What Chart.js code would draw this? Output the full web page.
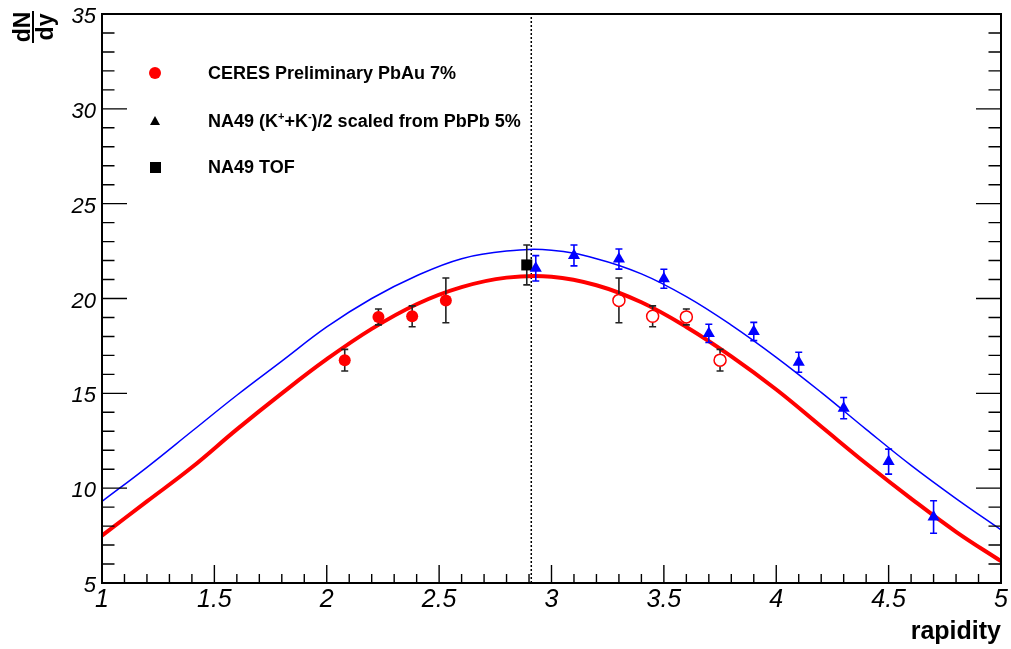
<!DOCTYPE html>
<html>
<head>
<meta charset="utf-8">
<script src="https://cdn.jsdelivr.net/npm/chart.js@4.4.1/dist/chart.umd.min.js"></script>
<style>
html, body { margin: 0; padding: 0; background: #fff; }
#caixa { width: 1011px; height: 649px; position: relative; }
</style>
</head>
<body>
<div id="caixa"><canvas id="grafico"></canvas></div>
<script>
// CERES PbAu 7% - pontos medidos
var ceresX = [2.08, 2.23, 2.38, 2.53];
var ceresY = [16.75, 19.03, 19.06, 19.9];
var ceresErr = [0.57, 0.42, 0.55, 1.18];

// CERES refletidos em torno da rapidez central
var ceresReflX = [3.30, 3.45, 3.60, 3.75];
var ceresReflY = [19.9, 19.06, 19.03, 16.75];
var ceresReflErr = [1.18, 0.55, 0.42, 0.57];

// NA49 (K+ + K-)/2
var na49X = [2.93, 3.1, 3.3, 3.5, 3.7, 3.9, 4.1, 4.3, 4.5, 4.7];
var na49Y = [21.59, 22.27, 22.08, 21.04, 18.16, 18.26, 16.64, 14.22, 11.4, 8.48];
var na49Err = [0.67, 0.55, 0.53, 0.5, 0.48, 0.48, 0.53, 0.56, 0.66, 0.86];

// NA49 TOF
var tofX = [2.89];
var tofY = [21.77];
var tofErr = [1.05];

// curvas
var curvaX = [1.0, 1.2, 1.4, 1.6, 1.8, 2.0, 2.2, 2.4, 2.6, 2.8, 3.0, 3.2, 3.4, 3.6, 3.8, 4.0, 4.2, 4.4, 4.6, 4.8, 5.0];
var curvaVermelha = [7.5, 9.3, 11.1, 13.1, 15.0, 16.8, 18.4, 19.7, 20.6, 21.1, 21.15, 20.7, 19.8, 18.5, 16.95, 15.2, 13.25, 11.3, 9.45, 7.7, 6.15];
var curvaAzul = [9.3, 11.1, 13.0, 14.9, 16.7, 18.5, 20.0, 21.2, 22.1, 22.5, 22.55, 22.1, 21.3, 20.1, 18.6, 16.9, 15.05, 13.1, 11.2, 9.45, 7.8];

var yMeio = 2.91;
var xMin = 1, xMax = 5, yMin = 5, yMax = 35;

var fonte = "'Liberation Sans', Arial, Helvetica, sans-serif";

function pontos(xs, ys) {
    return xs.map(function (x, i) { return { x: x, y: ys[i] }; });
}

// barras de erro desenhadas antes dos marcadores
const pluginErros = {
    id: 'erros',
    beforeDatasetDraw(chart, args) {
        const ds = chart.data.datasets[args.index];
        if (!ds.erros) return;
        const ctx = chart.ctx, sx = chart.scales.x, sy = chart.scales.y;
        ctx.save();
        ctx.strokeStyle = ds.corErro;
        ctx.lineWidth = 1.6;
        ds.data.forEach(function (p, i) {
            const px = sx.getPixelForValue(p.x);
            const topo = sy.getPixelForValue(p.y + ds.erros[i]);
            const base = sy.getPixelForValue(p.y - ds.erros[i]);
            const c = sy.getPixelForValue(p.y);
            const gap = ds.gap || 0;
            ctx.beginPath();
            if (topo < c - gap) { ctx.moveTo(px, topo); ctx.lineTo(px, c - gap); }
            if (base > c + gap) { ctx.moveTo(px, c + gap); ctx.lineTo(px, base); }
            ctx.moveTo(px - 3.5, topo); ctx.lineTo(px + 3.5, topo);
            ctx.moveTo(px - 3.5, base); ctx.lineTo(px + 3.5, base);
            ctx.stroke();
        });
        ctx.restore();
    }
};

// moldura, ticks internos, legenda e titulo do eixo y
const pluginMoldura = {
    id: 'moldura',
    afterDraw(chart) {
        const ctx = chart.ctx, a = chart.chartArea, sx = chart.scales.x, sy = chart.scales.y;
        ctx.save();
        ctx.strokeStyle = '#000';

        // ticks
        ctx.lineWidth = 1.4;
        ctx.beginPath();
        for (let i = 0; i <= 40; i++) {
            const v = xMin + i * 0.1;
            const px = sx.getPixelForValue(v);
            const len = (i % 5 === 0) ? 18 : 9;
            ctx.moveTo(px, a.bottom); ctx.lineTo(px, a.bottom - len);
        }
        for (let v = yMin; v <= yMax; v++) {
            const py = sy.getPixelForValue(v);
            const len = (v % 5 === 0) ? 25 : 12.5;
            ctx.moveTo(a.left, py); ctx.lineTo(a.left + len, py);
            ctx.moveTo(a.right, py); ctx.lineTo(a.right - len, py);
        }
        ctx.stroke();

        // moldura
        ctx.lineWidth = 2;
        ctx.strokeRect(a.left, a.top, a.right - a.left, a.bottom - a.top);

        // legenda
        ctx.fillStyle = '#ff0000';
        ctx.beginPath();
        ctx.arc(155, 73, 6, 0, Math.PI * 2);
        ctx.fill();
        ctx.fillStyle = '#000';
        ctx.beginPath();
        ctx.moveTo(155, 116); ctx.lineTo(160, 125); ctx.lineTo(150, 125);
        ctx.closePath();
        ctx.fill();
        ctx.fillRect(150, 162, 11, 11);

        ctx.font = 'bold 18px ' + fonte;
        ctx.textBaseline = 'alphabetic';
        ctx.textAlign = 'left';
        ctx.fillText('CERES Preliminary PbAu 7%', 208, 79);
        let x = 208;
        const partes = [['NA49 (K', 0], ['+', 1], ['+K', 0], ['-', 1], [')/2 scaled from PbPb 5%', 0]];
        partes.forEach(function (p) {
            if (p[1]) {
                ctx.font = 'bold 11px ' + fonte;
                ctx.fillText(p[0], x, 120);
            } else {
                ctx.font = 'bold 18px ' + fonte;
                ctx.fillText(p[0], x, 127);
            }
            x += ctx.measureText(p[0]).width;
        });
        ctx.font = 'bold 18px ' + fonte;
        ctx.fillText('NA49 TOF', 208, 173);

        // dN/dy
        ctx.translate(33, 27);
        ctx.rotate(-Math.PI / 2);
        ctx.font = 'bold 23px ' + fonte;
        ctx.textAlign = 'center';
        ctx.fillText('dN', 0, -3);
        ctx.fillText('dy', 0, 20);
        ctx.lineWidth = 2;
        ctx.beginPath();
        ctx.moveTo(-16, 0); ctx.lineTo(16, 0);
        ctx.stroke();

        ctx.restore();
    }
};

new Chart(document.getElementById('grafico'), {
    type: 'line',
    data: {
        datasets: [
            {
                label: 'NA49 (K+ + K-)/2',
                data: pontos(na49X, na49Y),
                erros: na49Err,
                corErro: '#0000ff',
                gap: 0,
                showLine: false,
                pointStyle: 'triangle',
                pointRadius: 7,
                pointBackgroundColor: '#0000ff',
                pointBorderColor: '#0000ff',
                pointBorderWidth: 0,
                order: 0
            },
            {
                label: 'NA49 TOF',
                data: pontos(tofX, tofY),
                erros: tofErr,
                corErro: '#222',
                gap: 0,
                showLine: false,
                pointStyle: 'rect',
                pointRadius: 7.8,
                pointBackgroundColor: '#000',
                pointBorderColor: '#000',
                pointBorderWidth: 0,
                order: 0
            },
            {
                label: 'CERES Preliminary PbAu 7%',
                data: pontos(ceresX, ceresY),
                erros: ceresErr,
                corErro: '#222',
                gap: 0,
                showLine: false,
                pointStyle: 'circle',
                pointRadius: 6,
                pointBackgroundColor: '#ff0000',
                pointBorderColor: '#ff0000',
                pointBorderWidth: 0,
                order: 0
            },
            {
                label: 'CERES refletido',
                data: pontos(ceresReflX, ceresReflY),
                erros: ceresReflErr,
                corErro: '#222',
                gap: 6.5,
                showLine: false,
                pointStyle: 'circle',
                pointRadius: 6,
                pointBackgroundColor: 'rgba(255,255,255,0)',
                pointBorderColor: '#ff0000',
                pointBorderWidth: 1.5,
                order: 0
            },
            {
                label: 'curva vermelha',
                data: pontos(curvaX, curvaVermelha),
                borderColor: '#ff0000',
                borderWidth: 4,
                pointRadius: 0,
                tension: 0.4,
                order: 1
            },
            {
                label: 'curva azul',
                data: pontos(curvaX, curvaAzul),
                borderColor: '#0000ff',
                borderWidth: 1.5,
                pointRadius: 0,
                tension: 0.4,
                order: 2
            },
            {
                label: 'meio',
                data: [{ x: yMeio, y: yMin }, { x: yMeio, y: yMax }],
                borderColor: '#000',
                borderWidth: 1.5,
                borderDash: [2, 2],
                pointRadius: 0,
                order: 3
            }
        ]
    },
    options: {
        responsive: true,
        maintainAspectRatio: false,
        animation: false,
        layout: { padding: { top: 14, right: 10, left: 0, bottom: 0 } },
        plugins: {
            legend: { display: false },
            tooltip: { enabled: false }
        },
        hover: false,
        scales: {
            x: {
                type: 'linear',
                min: xMin,
                max: xMax,
                afterFit: function (scale) {
                    scale.height = 66;
                    scale.paddingLeft = 0;
                    scale.paddingRight = 0;
                },
                grid: { display: false, drawTicks: false },
                border: { display: false },
                ticks: {
                    stepSize: 0.5,
                    autoSkip: false,
                    maxRotation: 0,
                    padding: 2,
                    color: '#000',
                    font: { family: fonte, size: 25, style: 'italic' },
                    callback: function (v) { return String(Math.round(v * 10) / 10); }
                },
                title: {
                    display: true,
                    text: 'rapidity',
                    align: 'end',
                    color: '#000',
                    padding: { top: 0, bottom: 2 },
                    font: { family: fonte, size: 25, weight: 'bold' }
                }
            },
            y: {
                type: 'linear',
                min: yMin,
                max: yMax,
                afterFit: function (scale) {
                    scale.width = 102;
                    scale.paddingTop = 0;
                    scale.paddingBottom = 0;
                },
                grid: { display: false, drawTicks: false },
                border: { display: false },
                ticks: {
                    stepSize: 5,
                    padding: 6,
                    labelOffset: 3,
                    color: '#000',
                    font: { family: fonte, size: 22, style: 'italic' }
                }
            }
        }
    },
    plugins: [pluginErros, pluginMoldura]
});
</script>
</body>
</html>
